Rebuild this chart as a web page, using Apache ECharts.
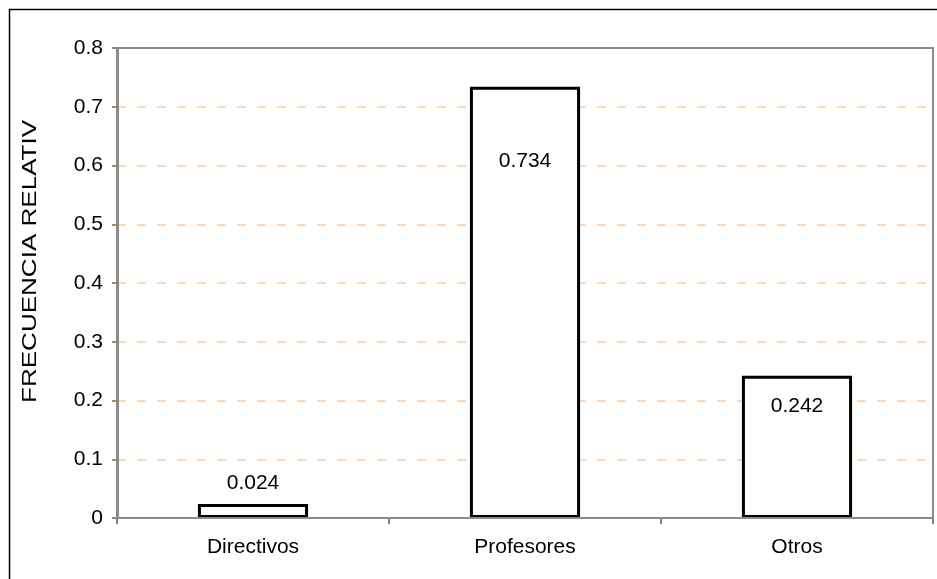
<!DOCTYPE html>
<html>
<head>
<meta charset="utf-8">
<script src="https://cdn.jsdelivr.net/npm/echarts@6/dist/echarts.min.js"></script>
<style>
html,body{margin:0;padding:0;background:#fff;}
#chart{width:937px;height:579px;}
</style>
</head>
<body>
<div id="chart"></div>
<script>
const categories = ["Directivos", "Profesores", "Otros"];
const values = [0.024, 0.734, 0.242];
const yTicks = [0, 0.1, 0.2, 0.3, 0.4, 0.5, 0.6, 0.7, 0.8];
const yTitle = "FRECUENCIA RELATIVA";

const FONT = '"Liberation Sans", Arial, sans-serif';
const FS = 21;
const labelCfg = [
  { position: 'top', distance: 10 },
  { position: 'insideTop', distance: 64 },
  { position: 'insideTop', distance: 20 }
];

const chart = echarts.init(document.getElementById('chart'), null, { renderer: 'canvas' });
chart.setOption({
  animation: false,
  backgroundColor: '#ffffff',
  textStyle: { fontFamily: FONT },
  graphic: [
    { type: 'rect', x: 9.5, y: 9.5, shape: { x: 0, y: 0, width: 1000, height: 700 },
      style: { fill: 'none', stroke: '#000', lineWidth: 1.5 }, z: 100, silent: true },
    { type: 'text', x: 30, y: 403, rotation: Math.PI / 2, scaleX: 1.24, z: 100, silent: true,
      style: { text: yTitle, fill: '#000', font: FS + 'px ' + FONT, align: 'left', verticalAlign: 'middle',
               width: 232, overflow: 'truncate', ellipsis: '' } }
  ],
  grid: { left: 117, top: 48, right: 4, bottom: 61, show: true, z: 5, borderColor: '#8c8c8c', borderWidth: 2, backgroundColor: 'transparent' },
  xAxis: {
    type: 'category',
    data: categories,
    axisLine: { lineStyle: { color: '#555', width: 1.5 } },
    axisTick: { show: true, length: 6, alignWithLabel: false, lineStyle: { color: '#555', width: 1.5 } },
    axisLabel: { color: '#000', fontSize: FS, margin: 19, fontFamily: FONT }
  },
  yAxis: {
    type: 'value',
    min: 0, max: 0.8, interval: 0.1,
    axisLine: { show: true, lineStyle: { color: '#666', width: 2.5 } },
    axisTick: { show: true, length: 5, lineStyle: { color: '#666', width: 1.5 } },
    axisLabel: { color: '#000', fontSize: FS, margin: 14, fontFamily: FONT,
      formatter: v => { const t = yTicks.find(x => Math.abs(x - v) < 1e-9); return t === undefined ? '' : String(t); } },
    splitLine: { show: true, lineStyle: { color: '#ffcc99', type: [9, 11], width: 1.5 } }
  },
  series: [{
    type: 'bar',
    barWidth: '40.5%',
    data: values.map((v, i) => ({
      value: v,
      label: Object.assign({ show: true, color: '#000', fontSize: FS, fontFamily: FONT }, labelCfg[i])
    })),
    itemStyle: { color: '#ffffff', borderColor: '#000', borderWidth: 3 }
  }]
});
</script>
</body>
</html>
